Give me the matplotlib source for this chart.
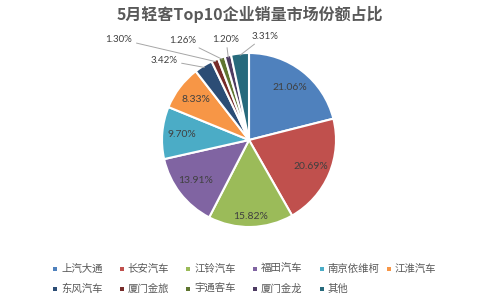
import numpy as np
import matplotlib.pyplot as plt
from matplotlib.patches import Rectangle

plt.rcParams['font.family'] = ['Noto Sans CJK SC', 'DejaVu Sans']

# 数据
names = ['上汽大通', '长安汽车', '江铃汽车', '福田汽车', '南京依维柯', '江淮汽车',
         '东风汽车', '厦门金旅', '宇通客车', '厦门金龙', '其他']
shares = [21.06, 20.69, 15.82, 13.91, 9.70, 8.33, 3.42, 1.30, 1.26, 1.20, 3.31]
colors = ['#4f81bd', '#c0504d', '#9bbb59', '#8064a2', '#4bacc6', '#f79646',
          '#2c4d75', '#772c2a', '#5f7530', '#4d3b62', '#276a7c']
title = '5月轻客Top10企业销量市场份额占比'

W, H = 500, 306
cx, cy, R = 249, 140, 87

fig = plt.figure(figsize=(W / 100, H / 100), dpi=100)
ax = fig.add_axes([0, 0, 1, 1])

wedges, _ = ax.pie(shares, colors=colors, startangle=90, counterclock=False,
                   radius=1.0, wedgeprops=dict(edgecolor='white', linewidth=1.5))
ax.set_xlim(-cx / R, (W - cx) / R)
ax.set_ylim((cy - H) / R, cy / R)
ax.set_aspect('equal')
ax.axis('off')

# 外部标签位置 (像素)
outside = {6: (164, 60), 7: (119, 39), 8: (183, 40), 9: (226, 39), 10: (265, 36)}

for i, w in enumerate(wedges):
    ang = np.deg2rad((w.theta1 + w.theta2) / 2)
    txt = '%.2f%%' % shares[i]
    if i in outside:
        px, py = outside[i]
        tx, ty = (px - cx) / R, (cy - py) / R
        ax.annotate(txt, xy=(np.cos(ang) * 0.98, np.sin(ang) * 0.98), xytext=(tx, ty),
                    ha='center', va='center', fontsize=7, color='#404040',
                    family=['Lato', 'DejaVu Sans'],
                    arrowprops=dict(arrowstyle='-', color='#a6a6a6', lw=0.7,
                                    shrinkA=1, shrinkB=0))
    else:
        r = 0.88 if i == 2 else 0.77
        ax.text(np.cos(ang) * r, np.sin(ang) * r, txt, ha='center', va='center',
                fontsize=7.5, color='#404040', family=['Lato', 'DejaVu Sans'])

fig.text(0.5, 1 - 14.5 / H, title, ha='center', va='center', fontsize=11.5,
         fontweight='bold', color='#595959')

# 图例
for i, name in enumerate(names):
    col, row = i % 6, i // 6
    x0 = 53 + col * 66.7
    y0 = 269 + row * 20
    fig.patches.append(Rectangle((x0 / W, 1 - (y0 + 2) / H), 4 / W, 4 / H,
                                 transform=fig.transFigure, facecolor=colors[i],
                                 edgecolor='none'))
    fig.text((x0 + 8) / W, 1 - y0 / H, name, ha='left', va='center',
             fontsize=7.5, color='#595959')

fig.savefig('out.png', dpi=100, facecolor='white')
